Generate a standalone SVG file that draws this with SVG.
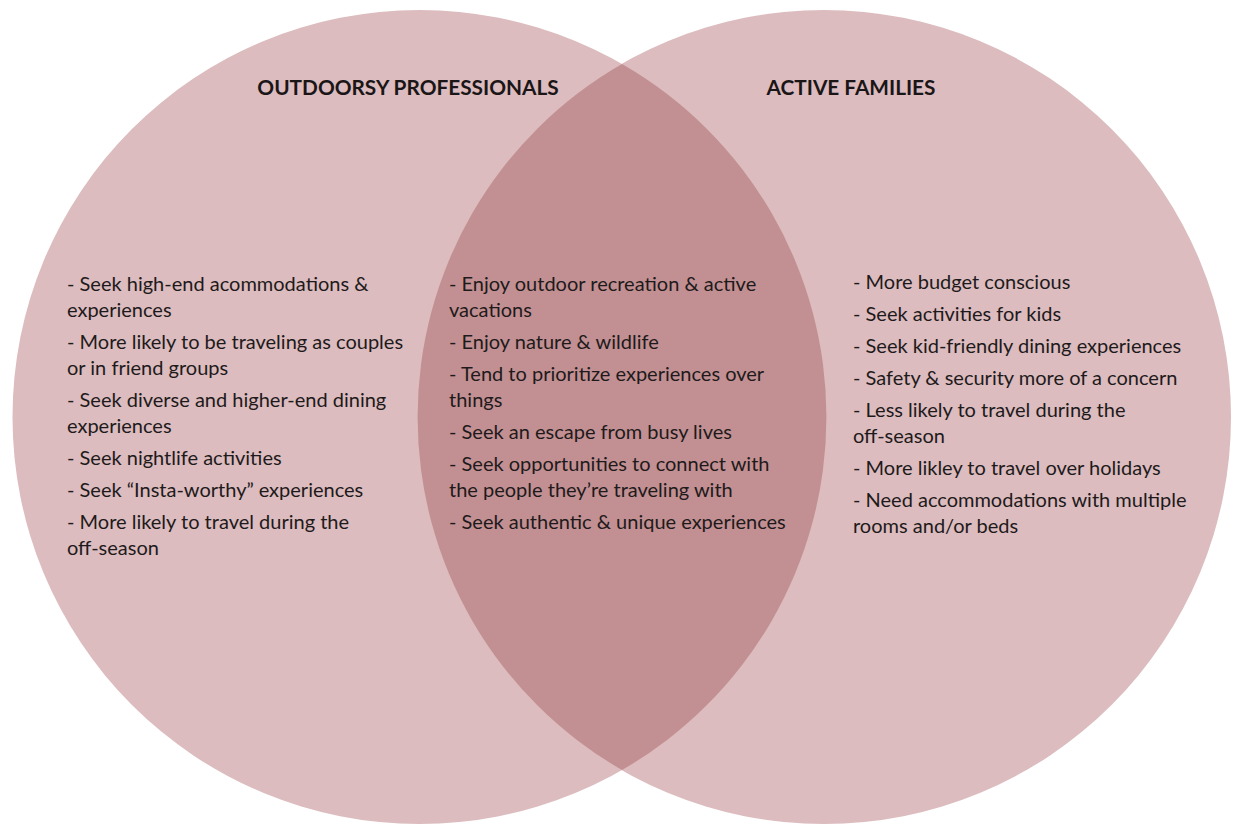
<svg xmlns="http://www.w3.org/2000/svg" width="1233" height="825" viewBox="0 0 1233 825">
  <style>
    .circ { fill: #dcbcbe; }
    .lens { fill: #c29092; }
    .title { font-family: Lato, "Liberation Sans", sans-serif; font-weight: bold; font-size: 20.8px; fill: #1a1617; text-anchor: middle; }
    .body { font-family: Lato, "Liberation Sans", sans-serif; font-size: 20px; fill: #1e1a1b; }
  </style>
  <rect width="1233" height="825" fill="#ffffff"/>
  <g id="outdoorsy-professionals">
    <circle class="circ" cx="419.5" cy="417" r="407"/>
  </g>
  <g id="active-families">
    <circle class="circ" cx="824" cy="417" r="407"/>
  </g>
  <g id="overlap">
    <path class="lens" d="M622,64 A407,407 0 0,1 622,770 A407,407 0 0,1 622,64 Z"/>
  </g>
  <g id="connectors"></g>
  <g id="labels">
    <text class="title" x="408" y="95">OUTDOORSY PROFESSIONALS</text>
    <text class="title" x="851" y="95">ACTIVE FAMILIES</text>
  </g>
  <g id="left-text" class="body">
    <text x="67" y="291">- Seek high-end acommodations &amp;</text>
    <text x="67" y="317">experiences</text>
    <text x="67" y="349">- More likely to be traveling as couples</text>
    <text x="67" y="375">or in friend groups</text>
    <text x="67" y="407">- Seek diverse and higher-end dining</text>
    <text x="67" y="433">experiences</text>
    <text x="67" y="465">- Seek nightlife activities</text>
    <text x="67" y="497">- Seek “Insta-worthy” experiences</text>
    <text x="67" y="529">- More likely to travel during the</text>
    <text x="67" y="555">off-season</text>
  </g>
  <g id="middle-text" class="body">
    <text x="449" y="291">- Enjoy outdoor recreation &amp; active</text>
    <text x="449" y="317">vacations</text>
    <text x="449" y="349">- Enjoy nature &amp; wildlife</text>
    <text x="449" y="381">- Tend to prioritize experiences over</text>
    <text x="449" y="407">things</text>
    <text x="449" y="439">- Seek an escape from busy lives</text>
    <text x="449" y="471">- Seek opportunities to connect with</text>
    <text x="449" y="497">the people they’re traveling with</text>
    <text x="449" y="529">- Seek authentic &amp; unique experiences</text>
  </g>
  <g id="right-text" class="body">
    <text x="853" y="289">- More budget conscious</text>
    <text x="853" y="321">- Seek activities for kids</text>
    <text x="853" y="353">- Seek kid-friendly dining experiences</text>
    <text x="853" y="385">- Safety &amp; security more of a concern</text>
    <text x="853" y="417">- Less likely to travel during the</text>
    <text x="853" y="443">off-season</text>
    <text x="853" y="475">- More likley to travel over holidays</text>
    <text x="853" y="507">- Need accommodations with multiple</text>
    <text x="853" y="533">rooms and/or beds</text>
  </g>
</svg>
